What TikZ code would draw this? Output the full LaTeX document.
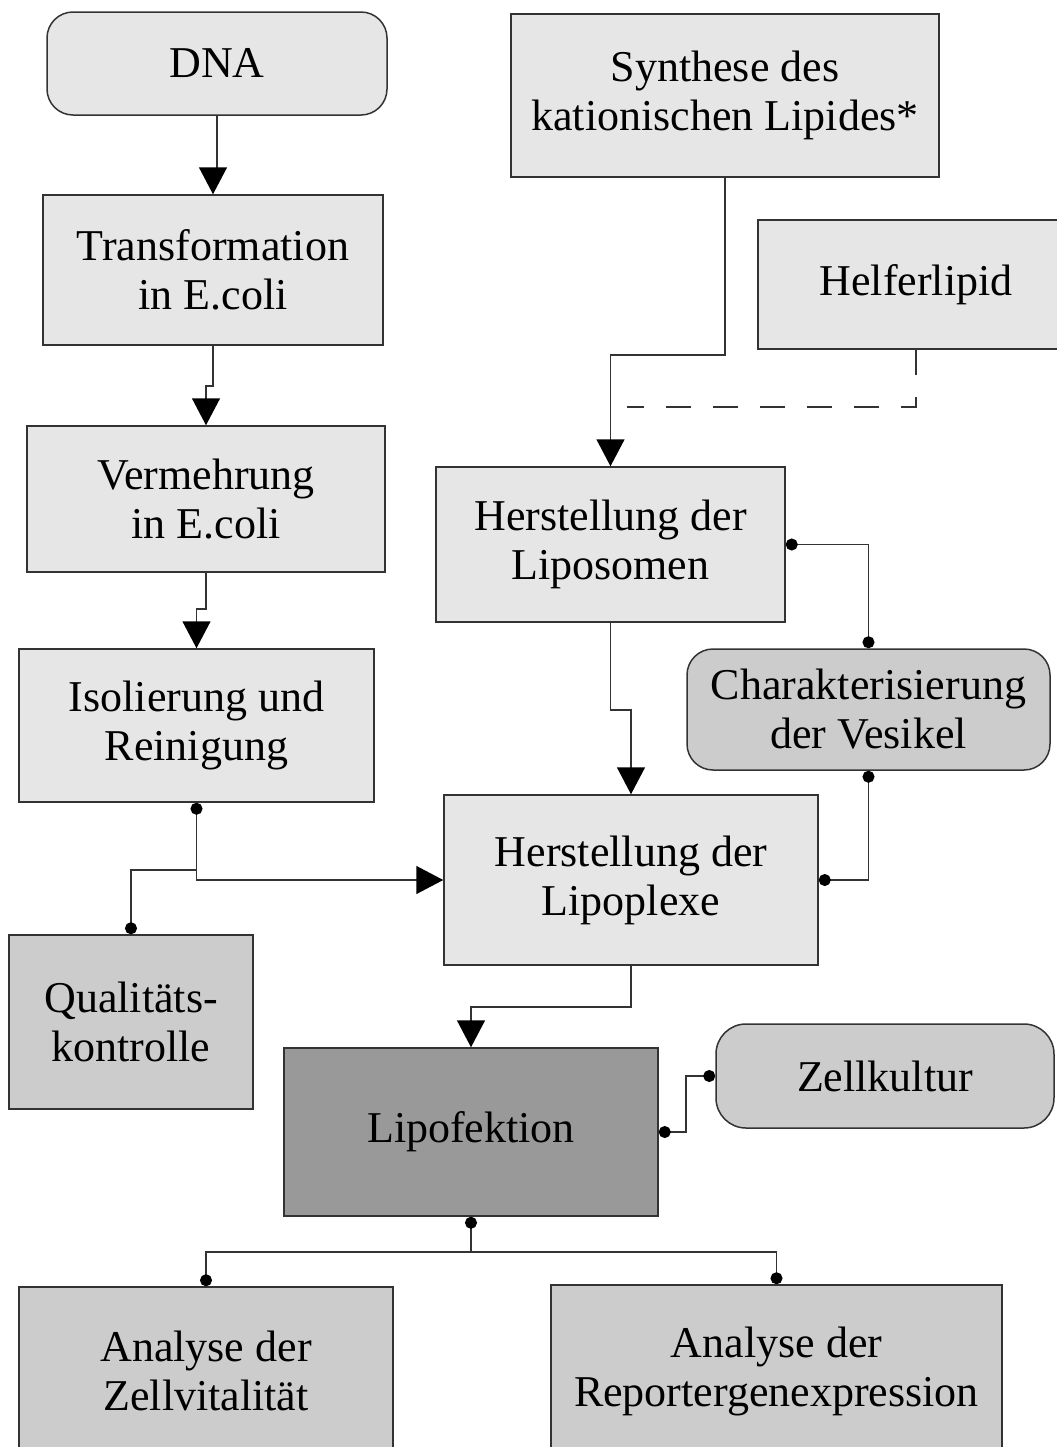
\documentclass[tikz,border=0pt]{standalone}
\usepackage{fontspec}
\setmainfont{Liberation Serif}
\usetikzlibrary{arrows.meta}

\definecolor{boxlight}{RGB}{230,230,230}
\definecolor{boxmid}{RGB}{204,204,204}
\definecolor{boxdark}{RGB}{153,153,153}
\definecolor{edgegray}{RGB}{51,51,51}

\tikzset{every picture/.style={line width=0.75pt}}
\tikzset{
  procbox/.style={draw=edgegray, fill=boxlight, inner sep=0pt, align=center,
    font=\fontsize{22}{24.5}\selectfont},
  termbox/.style={procbox, rounded corners=13pt},
  tri/.tip={Triangle[width=14pt,length=13.5pt,black]},
  dot/.tip={Circle[length=6pt,black]},
  flowarr/.style={draw=edgegray, -tri},
  dotdot/.style={draw=edgegray, dot-dot},
}

\begin{document}
\begin{tikzpicture}[x=0.5pt,y=0.5pt,yscale=-1]
\useasboundingbox (0,0) rectangle (1056,1447);

%Flowchart: Terminator
\node[termbox, minimum width=170pt, minimum height=51.5pt] (dna) at (217,63.5) {DNA};
%Flowchart: Process
\node[procbox, minimum width=170pt, minimum height=75pt] (transf) at (213,270) {Transformation\\in E.coli};
%Flowchart: Process
\node[procbox, minimum width=179pt, minimum height=73pt] (vermehr) at (206,499) {Vermehrung\\in E.coli};
%Flowchart: Process
\node[procbox, minimum width=177.5pt, minimum height=76.5pt] (isol) at (196.5,725.5) {Isolierung und\\Reinigung};
%Flowchart: Process
\node[procbox, fill=boxmid, minimum width=122pt, minimum height=87pt] (qual) at (131,1022) {Qualitäts-\\kontrolle};

%Flowchart: Process
\node[procbox, minimum width=214pt, minimum height=81.5pt] (synth) at (725,95.5) {Synthese des\\kationischen Lipides*};
%Flowchart: Process
\node[procbox, minimum width=158pt, minimum height=64.5pt] (helfer) at (916,284.5) {Helferlipid};
%Flowchart: Process
\node[procbox, minimum width=174.5pt, minimum height=77.5pt] (liposom) at (610.5,544.5) {Herstellung der\\Liposomen};
%Flowchart: Terminator
\node[termbox, fill=boxmid, minimum width=181.5pt, minimum height=60.5pt] (charakt) at (868.5,709.5) {Charakterisierung\\der Vesikel};
%Flowchart: Process
\node[procbox, minimum width=187pt, minimum height=85pt] (lipoplex) at (631,880) {Herstellung der\\Lipoplexe};

%Flowchart: Process
\node[procbox, fill=boxdark, minimum width=187pt, minimum height=84pt] (lipofekt) at (471,1132) {Lipofektion};
%Flowchart: Terminator
\node[termbox, fill=boxmid, rounded corners=15pt, minimum width=169pt, minimum height=52pt] (zellkult) at (885,1076) {Zellkultur};

%Flowchart: Process
\node[procbox, fill=boxmid, minimum width=187pt, minimum height=84pt] (vital) at (206,1371) {Analyse der\\Zellvitalität};
%Flowchart: Process
\node[procbox, fill=boxmid, minimum width=225.5pt, minimum height=86pt] (reporter) at (776.5,1371) {Analyse der\\Reportergenexpression};

%Connector: left column
\draw[flowarr] (dna.south) -- ++(0,53) -| (transf.north);
\draw[flowarr] (transf.south) -- ++(0,40) -| (vermehr.north);
\draw[flowarr] (vermehr.south) -- ++(0,36) -| (isol.north);
\path (isol.south) ++(0,67) coordinate (isolfork);
\draw[draw=edgegray, dot-tri] (isol.south) |- (lipoplex.west);
\draw[draw=edgegray, -dot] (isolfork) -| (qual.north);

%Connector: right column
\draw[flowarr] (synth.south) -- ++(0,177) -| (liposom.north);
\coordinate (helferend) at (627,407);
\draw[draw=edgegray, dash pattern={on 12.5pt off 11pt}] (helfer.south) |- (helferend);
\draw[dotdot] (liposom.east) -| (charakt.north);
\draw[flowarr] (liposom.south) -- ++(0,87) -| (lipoplex.north);
\draw[dotdot] (charakt.south) |- (lipoplex.east);

%Connector: bottom
\draw[flowarr] (lipoplex.south) -- ++(0,41) -| (lipofekt.north);
\draw[dotdot] (lipofekt.east) -- ++(27,0) |- (zellkult.west);
\path (lipofekt.south) ++(0,35) coordinate (lipofork);
\draw[draw=edgegray, dot-] (lipofekt.south) -- (lipofork);
\draw[draw=edgegray, -dot] (lipofork) -| (vital.north);
\draw[draw=edgegray, -dot] (lipofork) -| (reporter.north);

\end{tikzpicture}
\end{document}
